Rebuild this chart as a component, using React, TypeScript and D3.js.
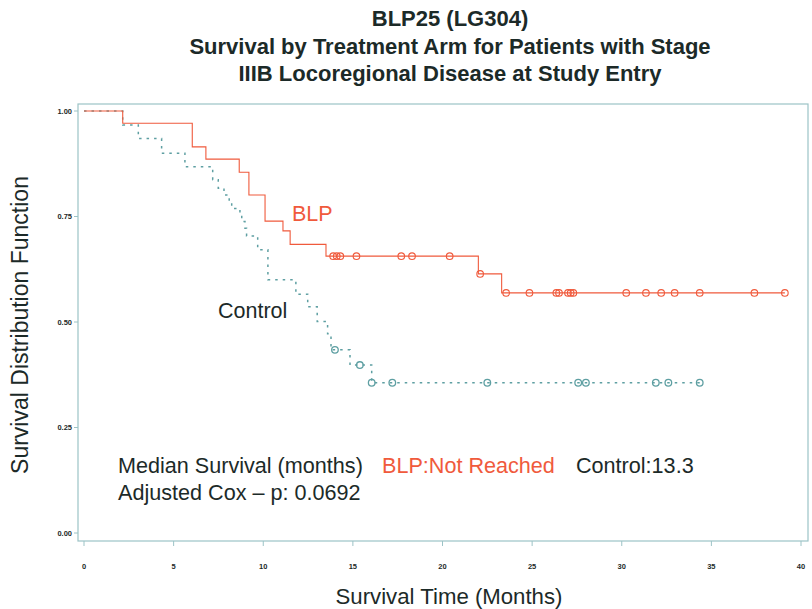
import React from "react";
import * as d3 from "d3";

const titleLines = [
  "BLP25 (LG304)",
  "Survival by Treatment Arm for Patients with Stage",
  "IIIB Locoregional Disease at Study Entry",
];
const xTicks = [0, 5, 10, 15, 20, 25, 30, 35, 40];
const yTicks = [0, 0.25, 0.5, 0.75, 1.0];

const blpTimes = [2.16, 6.04, 6.8, 8.66, 9.2, 10.1, 11.1, 11.5, 13.5, 22.0, 23.3];
const blpSurv = [0.971, 0.915, 0.886, 0.855, 0.801, 0.739, 0.716, 0.684, 0.656, 0.614, 0.569];
const blpCensor = [13.9, 14.1, 14.3, 15.2, 17.7, 18.3, 20.4, 22.1, 23.55, 24.85, 26.35, 26.5, 27.0, 27.15, 27.3, 30.25, 31.35, 32.2, 32.95, 34.35, 37.4, 39.1];

const ctrlTimes = [2.16, 3.03, 4.33, 5.63, 7.18, 7.49, 7.81, 8.1, 8.24, 8.7, 8.8, 8.98, 9.07, 9.69, 10.26, 11.82, 12.48, 13.01, 13.59, 13.78, 14.84, 16.05];
const ctrlSurv = [0.967, 0.935, 0.9, 0.868, 0.837, 0.817, 0.801, 0.785, 0.769, 0.754, 0.738, 0.722, 0.704, 0.671, 0.6, 0.566, 0.536, 0.501, 0.472, 0.434, 0.398, 0.356];
const ctrlCensor = [14.0, 15.39, 16.05, 17.2, 22.5, 27.57, 28.0, 31.9, 32.6, 34.35];

const RED = "#f05a3c";
const TEAL = "#5e9fa2";
const DARK = "#1c2a28";
const FRAME = "#9cc3c6";

function survAt(times: number[], surv: number[], t: number) {
  let s = 1;
  for (let i = 0; i < times.length; i++) if (times[i] <= t) s = surv[i];
  return s;
}

export default function App() {
  const x = d3.scaleLinear().domain([0, 40]).range([84, 801]);
  const y = d3.scaleLinear().domain([0, 1]).range([533, 111]);
  const line = d3
    .line<[number, number]>()
    .x((d) => x(d[0]))
    .y((d) => y(d[1]))
    .curve(d3.curveStepAfter);

  const pts = (times: number[], surv: number[], end: number): [number, number][] => {
    const p: [number, number][] = [[0, 1]];
    times.forEach((t, i) => p.push([t, surv[i]]));
    p.push([end, surv[surv.length - 1]]);
    return p;
  };
  const blpPath = line(pts(blpTimes, blpSurv, blpCensor[blpCensor.length - 1])) || "";
  const ctrlPath = line(pts(ctrlTimes, ctrlSurv, ctrlCensor[ctrlCensor.length - 1])) || "";

  const font = "Liberation Sans, Arial, sans-serif";

  return (
    <svg
      width={812}
      height={609}
      style={{ position: "absolute", left: 0, top: 0, background: "#fff" }}
      fontFamily={font}
    >
      <rect x={0} y={0} width={812} height={609} fill="#fff" />
      {titleLines.map((t, i) => (
        <text
          key={i}
          x={450}
          y={26 + i * 27.5}
          textAnchor="middle"
          fontWeight="bold"
          fontSize={22}
          fill={DARK}
        >
          {t}
        </text>
      ))}

      <rect x={78} y={104} width={730} height={437} fill="none" stroke={FRAME} strokeWidth={1.2} />

      {xTicks.map((t) => (
        <g key={t}>
          <line x1={x(t)} x2={x(t)} y1={541} y2={546} stroke={FRAME} strokeWidth={1} />
          <text x={x(t)} y={569} textAnchor="middle" fontSize={7.5} fontWeight="bold" fill={DARK}>
            {t}
          </text>
        </g>
      ))}
      {yTicks.map((t) => (
        <g key={t}>
          <line x1={74} x2={78} y1={y(t)} y2={y(t)} stroke={FRAME} strokeWidth={1} />
          <text x={72} y={y(t) + 2.5} textAnchor="end" fontSize={7.5} fontWeight="bold" fill={DARK}>
            {t.toFixed(2)}
          </text>
        </g>
      ))}

      <path d={ctrlPath} fill="none" stroke={TEAL} strokeWidth={1.5} strokeDasharray="2.5 5" />
      <path d={blpPath} fill="none" stroke={RED} strokeWidth={1.1} />

      {ctrlCensor.map((t, i) => (
        <circle key={"c" + i} cx={x(t)} cy={y(survAt(ctrlTimes, ctrlSurv, t))} r={3.3} fill="none" stroke={TEAL} strokeWidth={1.3} />
      ))}
      {blpCensor.map((t, i) => (
        <circle key={"b" + i} cx={x(t)} cy={y(survAt(blpTimes, blpSurv, t))} r={3.3} fill="none" stroke={RED} strokeWidth={1.1} />
      ))}

      <text x={292} y={221} fontSize={21.5} fill={RED}>BLP</text>
      <text x={218} y={318} fontSize={21.5} fill={DARK}>Control</text>

      <text x={118} y={473} fontSize={21.6} fill={DARK}>Median Survival (months)</text>
      <text x={382} y={473} fontSize={21.6} fill={RED}>BLP:Not Reached</text>
      <text x={576} y={473} fontSize={21.6} fill={DARK}>Control:13.3</text>
      <text x={118} y={500} fontSize={21.6} fill={DARK}>Adjusted Cox – p: 0.0692</text>

      <text x={449} y={604} textAnchor="middle" fontSize={22.2} fill={DARK}>Survival Time (Months)</text>
      <text
        transform="translate(28,325) rotate(-90)"
        textAnchor="middle"
        fontSize={23}
        fill={DARK}
      >
        Survival Distribution Function
      </text>
    </svg>
  );
}
